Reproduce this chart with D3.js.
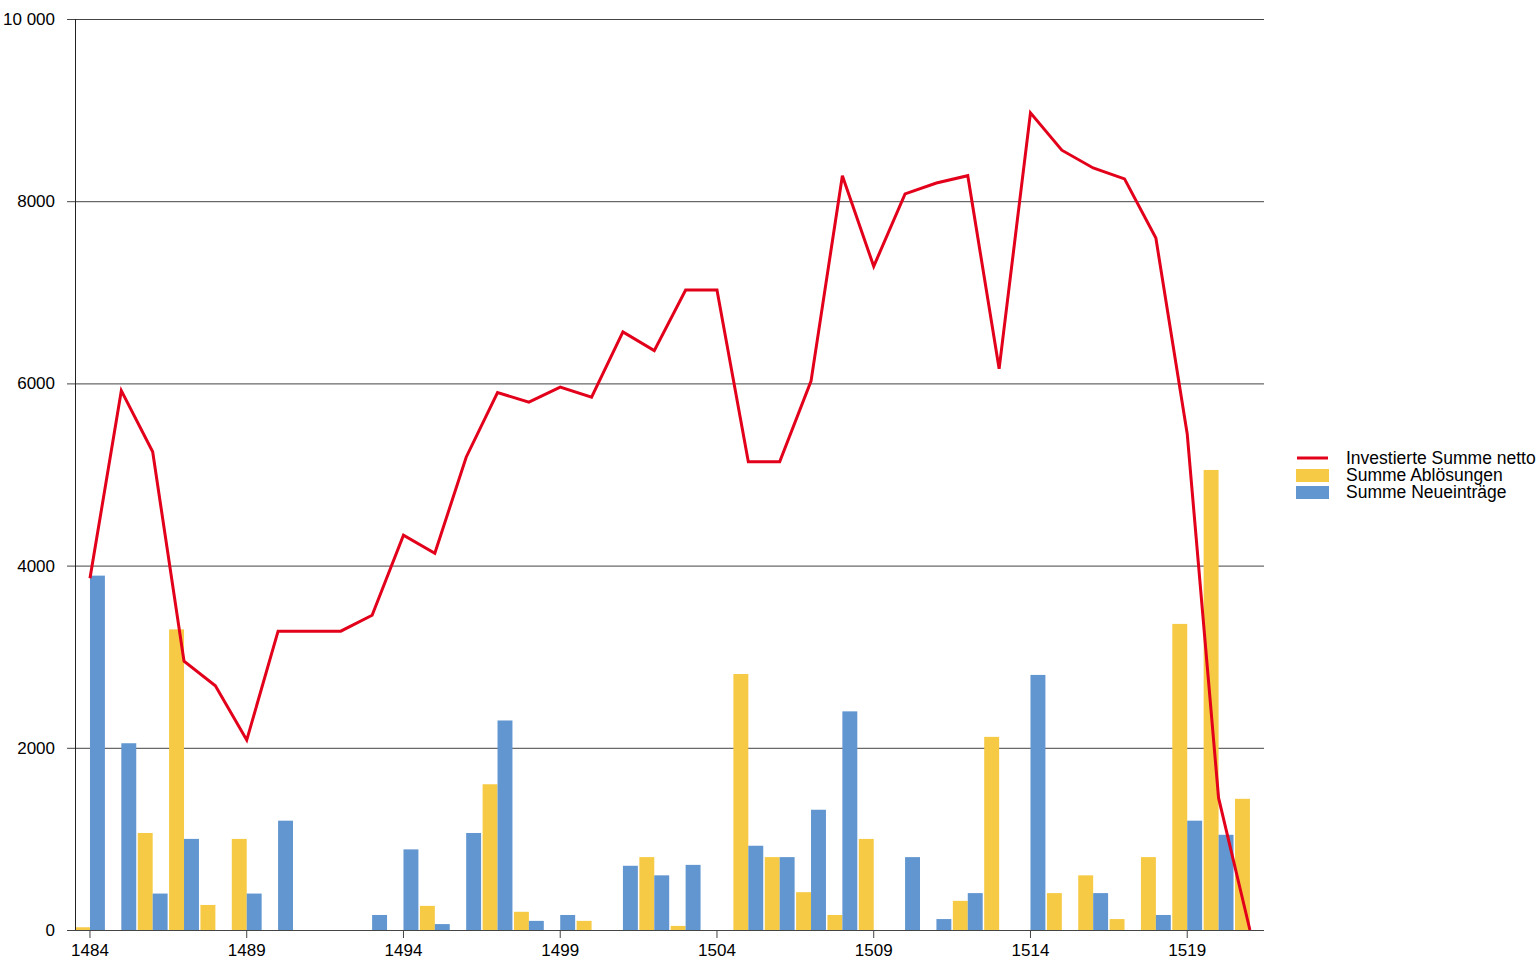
<!DOCTYPE html>
<html>
<head>
<meta charset="utf-8">
<script src="https://cdn.jsdelivr.net/npm/d3@7"></script>
<style>
  body { margin: 0; background: #fff; }
  svg text { font-family: "Liberation Sans", Arial, sans-serif; fill: #000; }
</style>
</head>
<body>
<div id="chart"></div>
<script>
var years = d3.range(1484, 1522);

// Summe Ablösungen
var abloesungen = [30, 0, 1065, 3300, 275, 1000, 0, 0, 0, 0,
  0, 265, 0, 1600, 200, 0, 100, 0, 800, 45,
  0, 2810, 800, 415, 165, 1000, 0, 0, 320, 2120,
  0, 405, 600, 120, 800, 3360, 5050, 1440];

// Summe Neueinträge
var neueintraege = [3890, 2050, 400, 1000, 0, 400, 1200, 0, 0, 165,
  885, 65, 1065, 2300, 100, 165, 0, 705, 600, 715,
  0, 925, 800, 1320, 2400, 0, 800, 120, 405, 0,
  2800, 0, 405, 0, 165, 1200, 1045, 0];

// Investierte Summe netto
var netto = [3860, 5920, 5250, 2950, 2680, 2085, 3280, 3280, 3280, 3455,
  4335, 4135, 5190, 5900, 5795, 5960, 5850, 6565, 6360, 7025,
  7025, 5140, 5140, 6025, 8280, 7285, 8080, 8200, 8280, 6160,
  8970, 8560, 8365, 8245, 7595, 5445, 1450, 0];

var yTicks = [0, 2000, 4000, 6000, 8000, 10000];
var xTickYears = [1484, 1489, 1494, 1499, 1504, 1509, 1514, 1519];

var seriesNames = ["Investierte Summe netto", "Summe Ablösungen", "Summe Neueinträge"];
var colors = { netto: "#e2001a", abl: "#f6ca45", neu: "#6196d0" };

var W = 1536, H = 960,
    plotL = 75, plotR = 1264, plotT = 19, plotB = 930;

var svg = d3.select("#chart").append("svg")
    .attr("width", W)
    .attr("height", H);

var x = d3.scaleBand().domain(years).range([74.3, 1265.6]).paddingInner(0).paddingOuter(0);
var sub = d3.scaleBand().domain(["abl", "neu"]).range([0, x.bandwidth()]).paddingOuter(0.05);
var y = d3.scaleLinear().domain([0, 10000]).range([plotB, plotT]);

var fmt = function(d) { return d === 10000 ? "10 000" : String(d); };

// gridlines + y labels
var yAxis = svg.append("g")
    .attr("transform", "translate(" + plotL + ",0)")
    .call(d3.axisLeft(y).tickValues(yTicks).tickSize(8).tickFormat(fmt).tickPadding(12));
yAxis.select(".domain").remove();
yAxis.selectAll("text").style("font-size", "17px");
yAxis.selectAll(".tick line").attr("stroke", "#444");
yAxis.selectAll(".tick").append("line")
    .attr("x1", 0).attr("x2", plotR - plotL)
    .attr("stroke", "#444");

// bars
var groups = svg.append("g").selectAll("g")
    .data(years)
    .enter().append("g")
    .attr("transform", function(d) { return "translate(" + x(d) + ",0)"; });

groups.append("rect")
    .attr("x", sub("abl"))
    .attr("width", sub.bandwidth())
    .attr("y", function(d, i) { return y(abloesungen[i]); })
    .attr("height", function(d, i) { return y(0) - y(abloesungen[i]); })
    .attr("fill", colors.abl);

groups.append("rect")
    .attr("x", sub("neu"))
    .attr("width", sub.bandwidth())
    .attr("y", function(d, i) { return y(neueintraege[i]); })
    .attr("height", function(d, i) { return y(0) - y(neueintraege[i]); })
    .attr("fill", colors.neu);

// axis lines
svg.append("line")
    .attr("x1", plotL + 0.5).attr("x2", plotL + 0.5)
    .attr("y1", plotT).attr("y2", plotB)
    .attr("stroke", "#222");

var xAxis = svg.append("g")
    .attr("transform", "translate(0," + plotB + ")")
    .call(d3.axisBottom(x).tickValues(xTickYears).tickSize(8).tickPadding(6));
xAxis.select(".domain").attr("d", "M" + (plotL - 8) + ",0.5H" + plotR).attr("stroke", "#444");
xAxis.selectAll(".tick line").attr("stroke", "#444");
xAxis.selectAll("text").style("font-size", "17px");

// line
var line = d3.line()
    .x(function(d, i) { return x(years[i]) + x.bandwidth() / 2; })
    .y(function(d) { return y(d); });

svg.append("path")
    .datum(netto)
    .attr("fill", "none")
    .attr("stroke", colors.netto)
    .attr("stroke-width", 3)
    .attr("stroke-linejoin", "miter")
    .attr("d", line);

// legend
var legend = svg.append("g").attr("transform", "translate(1296,458)");
var keys = ["netto", "abl", "neu"];
keys.forEach(function(k, i) {
  var g = legend.append("g").attr("transform", "translate(0," + (i * 17) + ")");
  if (k === "netto") {
    g.append("line").attr("x1", 1).attr("x2", 32).attr("y1", 0).attr("y2", 0)
      .attr("stroke", colors.netto).attr("stroke-width", 3);
  } else {
    g.append("rect").attr("x", 0).attr("y", -6).attr("width", 33).attr("height", 13)
      .attr("fill", colors[k]);
  }
  g.append("text").attr("x", 50).attr("y", 6).style("font-size", "17.5px").text(seriesNames[i]);
});
</script>
</body>
</html>
